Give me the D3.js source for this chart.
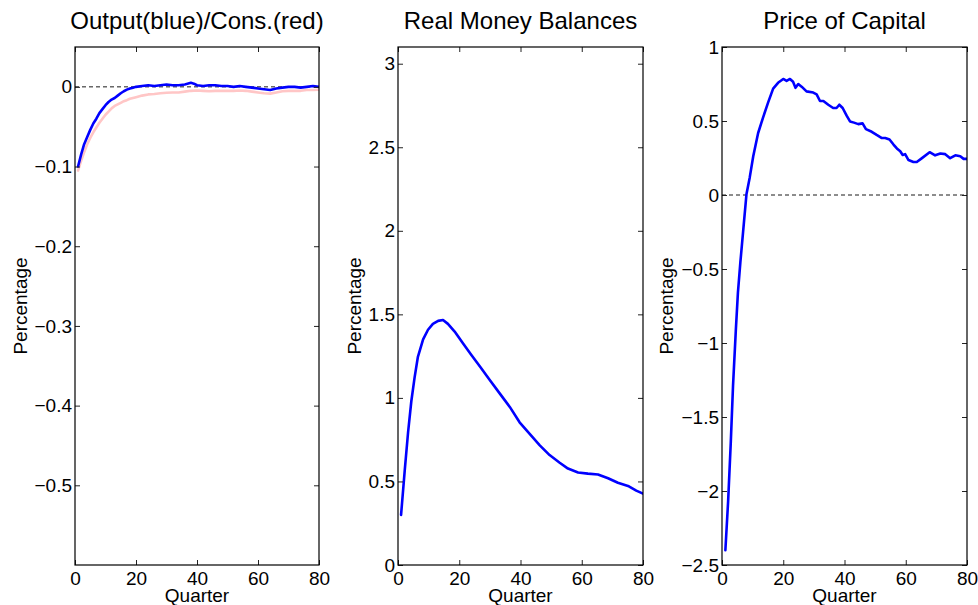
<!DOCTYPE html>
<html>
<head>
<meta charset="utf-8">
<script src="https://cdn.jsdelivr.net/npm/d3@7"></script>
<style>
  html, body { margin: 0; padding: 0; background: #fff; }
  svg { display: block; }
  text { font-family: "Liberation Sans", Arial, Helvetica, sans-serif; fill: #000; }
</style>
</head>
<body>
<svg id="chart" width="978" height="605"></svg>
<script>
// ---------------- DATA ----------------
const titles = ["Output(blue)/Cons.(red)", "Real Money Balances", "Price of Capital"];
const xTicks = [0, 20, 40, 60, 80];
const yTicks1 = [0, -0.1, -0.2, -0.3, -0.4, -0.5];
const yTicks2 = [0, 0.5, 1, 1.5, 2, 2.5, 3];
const yTicks3 = [1, 0.5, 0, -0.5, -1, -1.5, -2, -2.5];
const yDomain1 = [-0.6, 0.05];
const yDomain2 = [0, 3.1];
const yDomain3 = [-2.5, 1];

// Panel 1: output (blue) and consumption (red)
const outputQ = [1,2,3,4,5,6,7,8,9,10,11,12,13,14,15,16,17,18,19,20,22,24,26,28,30,32,34,36,38,39,40,42,44,46,48,50,52,54,56,58,60,62,64,66,68,70,72,74,76,78,80];
const outputV = [-0.100,-0.085,-0.072,-0.063,-0.054,-0.046,-0.040,-0.033,-0.028,-0.023,-0.019,-0.016,-0.014,-0.011,-0.008,-0.0055,-0.0035,-0.002,-0.001,0.000,0.001,0.002,0.001,0.002,0.003,0.002,0.002,0.003,0.005,0.004,0.002,0.001,0.002,0.002,0.001,0.001,0.000,0.001,0.000,-0.001,-0.002,-0.003,-0.004,-0.002,-0.001,0.000,0.000,-0.001,0.000,0.001,0.000];
const consQ = [1,2,3,4,5,6,7,8,9,10,11,12,13,14,15,16,17,18,20,22,24,26,28,30,32,34,36,38,40,42,44,46,48,50,52,54,56,58,60,62,64,66,68,70,72,74,76,78,80];
const consV = [-0.105,-0.093,-0.082,-0.072,-0.064,-0.057,-0.051,-0.045,-0.040,-0.035,-0.031,-0.027,-0.024,-0.022,-0.020,-0.018,-0.0167,-0.015,-0.013,-0.011,-0.0095,-0.009,-0.008,-0.0075,-0.007,-0.007,-0.006,-0.005,-0.0045,-0.005,-0.0055,-0.005,-0.005,-0.005,-0.005,-0.0045,-0.005,-0.006,-0.007,-0.008,-0.0085,-0.007,-0.0055,-0.005,-0.005,-0.005,-0.004,-0.004,-0.0037];

// Panel 2: real money balances
const moneyQ = [1,2.2,3.3,4.35,5.4,6.5,8.2,9.8,11.4,13.1,14.7,16.3,18.5,21.2,23.9,26.7,29.9,33.2,36.5,39.7,43,46.3,49.5,52.8,55.5,58.8,62,65.3,68.6,71.8,75.1,77.8,80];
const moneyV = [0.30,0.566,0.796,0.98,1.12,1.246,1.35,1.408,1.443,1.461,1.466,1.443,1.397,1.327,1.258,1.189,1.108,1.027,0.946,0.854,0.785,0.716,0.658,0.612,0.577,0.554,0.547,0.542,0.519,0.492,0.473,0.445,0.427];

// Panel 3: price of capital
const priceQ = [1.1,2,2.85,3.6,4.5,5.2,6,6.9,8,9.06,10.2,11.8,13.4,15.1,16.7,18.3,20,21.1,22.2,23.2,24,24.9,26,27.6,29.8,30.9,32,33.1,34.7,36.3,37.4,38.3,39.4,40.7,41.8,43.1,44.5,45.9,47,48.9,50.5,52.2,53.3,54.7,56,57.1,58.2,59,59.8,60.9,62.5,63.6,65.3,67.8,69.6,71.3,72.9,74.5,76.2,77.8,78.9,80];
const priceV = [-2.40,-2.07,-1.68,-1.29,-0.92,-0.66,-0.454,-0.246,0.007,0.119,0.262,0.419,0.523,0.627,0.719,0.758,0.784,0.771,0.784,0.765,0.724,0.75,0.732,0.70,0.692,0.68,0.635,0.635,0.61,0.588,0.588,0.61,0.588,0.536,0.497,0.489,0.479,0.484,0.445,0.427,0.406,0.385,0.385,0.375,0.341,0.315,0.296,0.27,0.276,0.236,0.223,0.223,0.249,0.289,0.268,0.28,0.276,0.249,0.268,0.262,0.244,0.244];

// ---------------- LAYOUT ----------------
const svg = d3.select("#chart");
const plotTop = 47, plotBottom = 565;
const panels = [
  { left: 75,  right: 319, title: titles[0], yDomain: yDomain1, yTicks: yTicks1, zero: true, ylabOff: 48,
    series: [ { q: consQ, v: consV, color: "#ffc6c6" }, { q: outputQ, v: outputV, color: "#0000ff" } ] },
  { left: 398, right: 643, title: titles[1], yDomain: yDomain2, yTicks: yTicks2, zero: false, ylabOff: 37,
    series: [ { q: moneyQ, v: moneyV, color: "#0000ff" } ] },
  { left: 722, right: 967, title: titles[2], yDomain: yDomain3, yTicks: yTicks3, zero: true, ylabOff: 49,
    series: [ { q: priceQ, v: priceV, color: "#0000ff" } ] }
];

const fmt = d => (d < 0 ? "\u2212" : "") + String(Math.abs(d));

panels.forEach(p => {
  const x = d3.scaleLinear().domain([0, 80]).range([p.left, p.right]);
  const y = d3.scaleLinear().domain(p.yDomain).range([plotBottom, plotTop]);
  const g = svg.append("g");

  const cid = "clip" + p.left;
  svg.append("clipPath").attr("id", cid).append("rect")
    .attr("x", p.left).attr("y", plotTop).attr("width", p.right - p.left).attr("height", plotBottom - plotTop);

  if (p.zero) {
    g.append("line").attr("x1", x(0)).attr("x2", x(80)).attr("y1", y(0)).attr("y2", y(0))
      .attr("stroke", "#000").attr("stroke-width", 0.9).attr("stroke-dasharray", "4,3");
  }

  p.series.forEach(s => {
    const pts = s.q.map((q, i) => [q, s.v[i]]);
    g.append("path").datum(pts)
      .attr("clip-path", `url(#${cid})`)
      .attr("fill", "none").attr("stroke", s.color).attr("stroke-width", 2.6)
      .attr("stroke-linejoin", "round").attr("stroke-linecap", "round")
      .attr("d", d3.line().x(d => x(d[0])).y(d => y(d[1])));
  });

  const tk = 5;
  const ax = [
    g.append("g").attr("transform", `translate(0,${plotBottom})`)
      .call(d3.axisBottom(x).tickValues(xTicks).tickSizeInner(-tk).tickSizeOuter(0).tickPadding(7).tickFormat(d => String(d))),
    g.append("g").attr("transform", `translate(0,${plotTop})`)
      .call(d3.axisTop(x).tickValues(xTicks).tickSizeInner(-tk).tickSizeOuter(0).tickFormat("")),
    g.append("g").attr("transform", `translate(${p.left},0)`)
      .call(d3.axisLeft(y).tickValues(p.yTicks).tickSizeInner(-tk).tickSizeOuter(0).tickPadding(3).tickFormat(fmt)),
    g.append("g").attr("transform", `translate(${p.right},0)`)
      .call(d3.axisRight(y).tickValues(p.yTicks).tickSizeInner(-tk).tickSizeOuter(0).tickFormat(""))
  ];
  ax.forEach(a => {
    a.select(".domain").remove();
    a.selectAll(".tick line").attr("stroke", "#222").attr("stroke-width", 1);
    a.selectAll(".tick text").attr("font-size", 19)
      .attr("font-family", "'Liberation Sans', Arial, Helvetica, sans-serif").attr("fill", "#000");
  });

  g.append("rect").attr("x", p.left).attr("y", plotTop)
    .attr("width", p.right - p.left).attr("height", plotBottom - plotTop)
    .attr("fill", "none").attr("stroke", "#000").attr("stroke-width", 1.2);

  g.append("text").attr("x", (p.left + p.right) / 2).attr("y", 29)
    .attr("text-anchor", "middle").attr("font-size", 24).text(p.title);

  g.append("text").attr("x", (p.left + p.right) / 2).attr("y", 602)
    .attr("text-anchor", "middle").attr("font-size", 19).text("Quarter");

  g.append("text")
    .attr("transform", `translate(${p.left - p.ylabOff},${(plotTop + plotBottom) / 2}) rotate(-90)`)
    .attr("text-anchor", "middle").attr("font-size", 19).text("Percentage");
});
</script>
</body>
</html>
